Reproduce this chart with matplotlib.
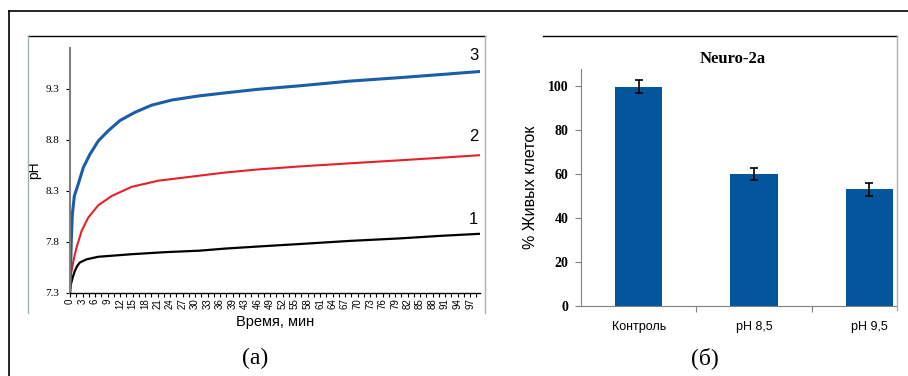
import numpy as np
import matplotlib.pyplot as plt
from matplotlib.lines import Line2D
from matplotlib.ticker import FixedLocator, MultipleLocator

# (a) pH во времени
t3 = [0, 0.3, 0.56, 1.04, 2.0, 3.2, 4.8, 6.8, 9.2, 12, 15.6, 19.6, 24.4, 30.8, 37.2, 45, 55.2, 67,
      79.2, 89, 98.4]
ph3 = [7.3, 7.8, 8.07, 8.25, 8.37, 8.53, 8.66, 8.79, 8.89, 8.99, 9.07, 9.14, 9.19, 9.23, 9.26, 9.295,
       9.33, 9.375, 9.41, 9.44, 9.47]
t2 = [0, 0.4, 1.0, 1.6, 2.8, 4.4, 6.8, 10, 14.8, 21.2, 29.2, 37.2, 45, 55.2, 67, 79.2, 89, 98.4]
ph2 = [7.45, 7.52, 7.65, 7.75, 7.91, 8.04, 8.16, 8.25, 8.34, 8.40, 8.44, 8.48, 8.51, 8.54, 8.57,
       8.60, 8.625, 8.65]
t1 = [0, 0.24, 0.7, 1.2, 1.8, 2.4, 4, 6.8, 14.8, 22.8, 31.2, 37.2, 45, 55.2, 67, 79.2, 89, 98.4]
ph1 = [7.33, 7.39, 7.46, 7.52, 7.57, 7.60, 7.63, 7.655, 7.68, 7.70, 7.715, 7.735, 7.755, 7.78,
       7.81, 7.835, 7.86, 7.88]
time_labels = ['0', '3', '6', '9', '12', '15', '18', '21', '24', '27', '30', '33', '36', '39', '43', '46',
               '49', '52', '55', '58', '61', '64', '67', '70', '73', '76', '79', '82', '85', '88', '91',
               '94', '97']
ph_ticks = [7.3, 7.8, 8.3, 8.8, 9.3]

# (б) выживаемость клеток
groups = ['Контроль', 'pH 8,5', 'pH 9,5']
alive = [99.6, 60.1, 53.0]
alive_err = [3.0, 2.8, 2.8]

W, H = 908, 376
fig = plt.figure(figsize=(W / 100, H / 100), dpi=100)


def fx(x):
    return x / W


def fy(y):
    return 1 - y / H


def line(x0, y0, x1, y1, color='black', lw=1.0):
    fig.add_artist(Line2D([fx(x0), fx(x1)], [fy(y0), fy(y1)], color=color, lw=lw))


# рамки
line(9, 11, 908, 11, lw=1.2)
line(9, 11, 9, 376, lw=1.2)
line(28, 36, 485, 36, lw=1.0)
line(28, 36, 28, 313, color='#a8b4b8', lw=1.0)
line(485, 36, 485, 313, color='#a8b4b8', lw=1.0)
line(543, 36, 897, 36, lw=1.0)
line(897, 36, 897, 310, color='#a8b4b8', lw=1.0)

# ---- (a)
ax1 = fig.add_axes([fx(70), fy(293), fx(410), 245 / H])
ax1.plot(t1, ph1, color='black', lw=1.6, solid_joinstyle='round')
ax1.plot(t2, ph2, color='#e8202a', lw=1.5, solid_joinstyle='round')
ax1.plot(t3, ph3, color='#1a5ea8', lw=2.2, solid_joinstyle='round')
ax1.set_xlim(0, 98.4)
ax1.set_ylim(7.3, 9.7)
ax1.xaxis.set_major_locator(FixedLocator([3 * i for i in range(len(time_labels))]))
ax1.set_xticklabels(time_labels, rotation=90, fontsize=7, family='Liberation Sans')
ax1.xaxis.set_minor_locator(MultipleLocator(1.5))
ax1.set_yticks(ph_ticks)
ax1.set_yticklabels([f'{v:.1f}' for v in ph_ticks], fontsize=8, family='Liberation Serif')
ax1.tick_params(axis='x', which='both', length=3, width=0.8, pad=1)
ax1.tick_params(axis='y', length=3, width=0.8, pad=5)
for s in ['top', 'right']:
    ax1.spines[s].set_visible(False)
ax1.spines['left'].set_color('#808080')
ax1.spines['left'].set_linewidth(1.5)
ax1.spines['bottom'].set_linewidth(1.0)
ax1.set_xlabel('Время, мин', fontsize=10.5, family='Liberation Sans', labelpad=4)
ax1.set_ylabel('pH', fontsize=10, family='Liberation Sans', labelpad=3)
for lab, y in [('3', 9.63), ('2', 8.83), ('1', 8.02)]:
    ax1.text(98, y, lab, ha='right', va='center', fontsize=12, family='Liberation Sans')

# ---- (б)
ax2 = fig.add_axes([fx(581), fy(306), fx(316), 237 / H])
x = np.arange(len(groups))
ax2.bar(x, alive, width=0.41, color='#03559c', yerr=alive_err,
        error_kw=dict(ecolor='black', elinewidth=1.2, capsize=3, capthick=1.2))
ax2.set_xlim(-0.5, 2.24)
ax2.set_ylim(0, 107.7)
ax2.set_yticks([0, 20, 40, 60, 80, 100])
ax2.set_yticklabels(['0', '20', '40', '60', '80', '100'], fontsize=10, family='Liberation Serif',
                    fontweight='bold')
ax2.set_xticks([0.5, 1.5])
ax2.set_xticklabels(['', ''])
ax2.tick_params(axis='x', length=4, width=0.8, color='#808080')
ax2.tick_params(axis='y', length=4, width=0.8, color='#808080', pad=5)
for i, g in enumerate(groups):
    ax2.text(i, -7, g, ha='center', va='top', fontsize=9, family='Liberation Sans')
for s in ['top', 'right']:
    ax2.spines[s].set_visible(False)
ax2.spines['left'].set_color('#808080')
ax2.spines['bottom'].set_color('#808080')
ax2.set_ylabel('% Живых клеток', fontsize=11.5, family='Liberation Sans', labelpad=7)
fig.text(fx(733), fy(59), 'Neuro-2a', ha='center', va='center', fontsize=12,
         family='Liberation Serif', fontweight='bold')

# подписи панелей
fig.text(fx(255), fy(358), '(a)', ha='center', va='center', fontsize=17, family='Liberation Serif')
fig.text(fx(705), fy(358), '(б)', ha='center', va='center', fontsize=17, family='Liberation Serif')

fig.savefig('out.png', dpi=100)
